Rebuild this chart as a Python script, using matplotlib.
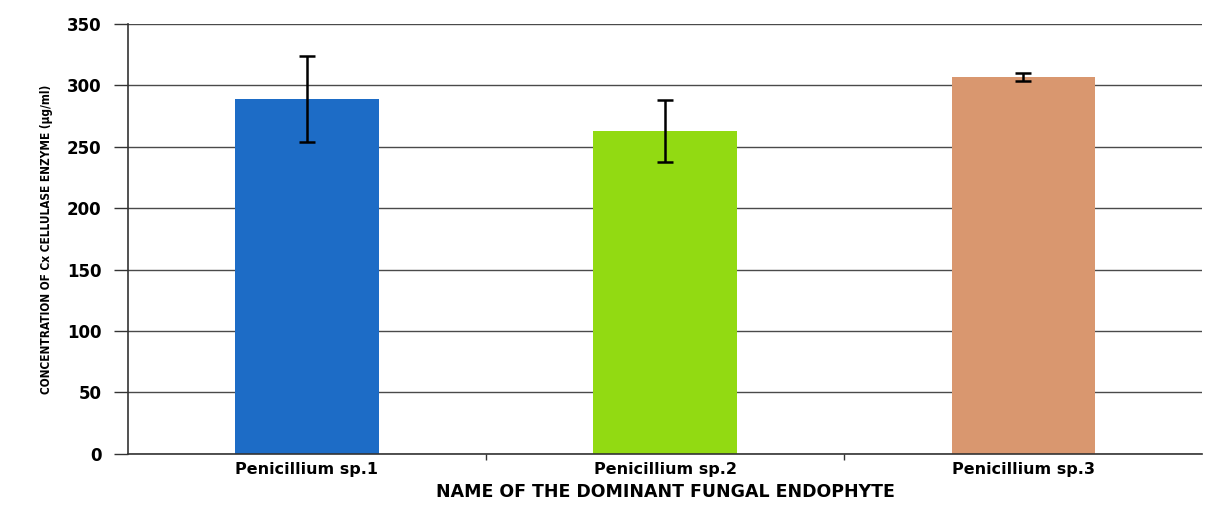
#! /usr/bin/env python

# import modules
# --------------
import numpy
import matplotlib
matplotlib.use('Agg')
import matplotlib.pyplot

# data --
strains = ['Penicillium sp.1', 'Penicillium sp.2', 'Penicillium sp.3']
cx_cellulase = [289, 263, 307]   # [ug/ml]
cx_err = [35, 25, 3.5]
bar_colors = ['#1d6cc6', '#92da12', '#d9976f']
yticks = [0, 50, 100, 150, 200, 250, 300, 350]


def barplot():
    fig = matplotlib.pyplot.figure(figsize=(12.17, 5.11), dpi=100)
    ax = fig.add_axes([0.105, 0.112, 0.883, 0.841])

    x = numpy.arange(len(strains))

    # grid lines --
    ax.set_axisbelow(True)
    ax.yaxis.grid(True, color='#4a4a4a', lw=1.0)

    # bars + error bars --
    ax.bar(x, cx_cellulase, width=0.4, color=bar_colors, zorder=2)
    ax.errorbar(x, cx_cellulase, yerr=cx_err, fmt='none', ecolor='black',
                elinewidth=1.8, capsize=6, capthick=1.8, zorder=3)

    # axes setting --
    ax.set_xlim(-0.5, len(strains) - 0.5)
    ax.set_ylim(0, 350)
    ax.set_yticks(yticks)
    ax.set_xticks(x)
    ax.set_xticks(x[:-1] + 0.5, minor=True)
    ax.tick_params(axis='x', which='major', length=0, pad=6)
    ax.tick_params(axis='x', which='minor', length=4, width=1, color='#333333')
    ax.tick_params(axis='y', length=10, width=1, color='#333333', pad=9)

    for spine in ['top', 'right']:
        ax.spines[spine].set_visible(False)
    for spine in ['left', 'bottom']:
        ax.spines[spine].set_color('#333333')
        ax.spines[spine].set_linewidth(1.2)

    ax.set_xticklabels(strains, fontsize=11.5, fontweight='bold', family='DejaVu Sans')
    for lbl in ax.get_yticklabels():
        lbl.set_fontsize(12)
        lbl.set_fontweight('bold')
        lbl.set_family('DejaVu Sans')

    # labels --
    ax.set_xlabel('NAME OF THE DOMINANT FUNGAL ENDOPHYTE', fontsize=12.5,
                  fontweight='bold', family='DejaVu Sans', labelpad=4)
    ax.set_ylabel('CONCENTRATION OF Cx CELLULASE ENZYME (\u03bcg/ml)', fontsize=8.5,
                  fontweight='bold', fontstretch='condensed',
                  family=['Liberation Sans Narrow', 'DejaVu Sans'], labelpad=10)

    fig.savefig('out.png', dpi=100)
    return


if __name__ == '__main__':
    barplot()
